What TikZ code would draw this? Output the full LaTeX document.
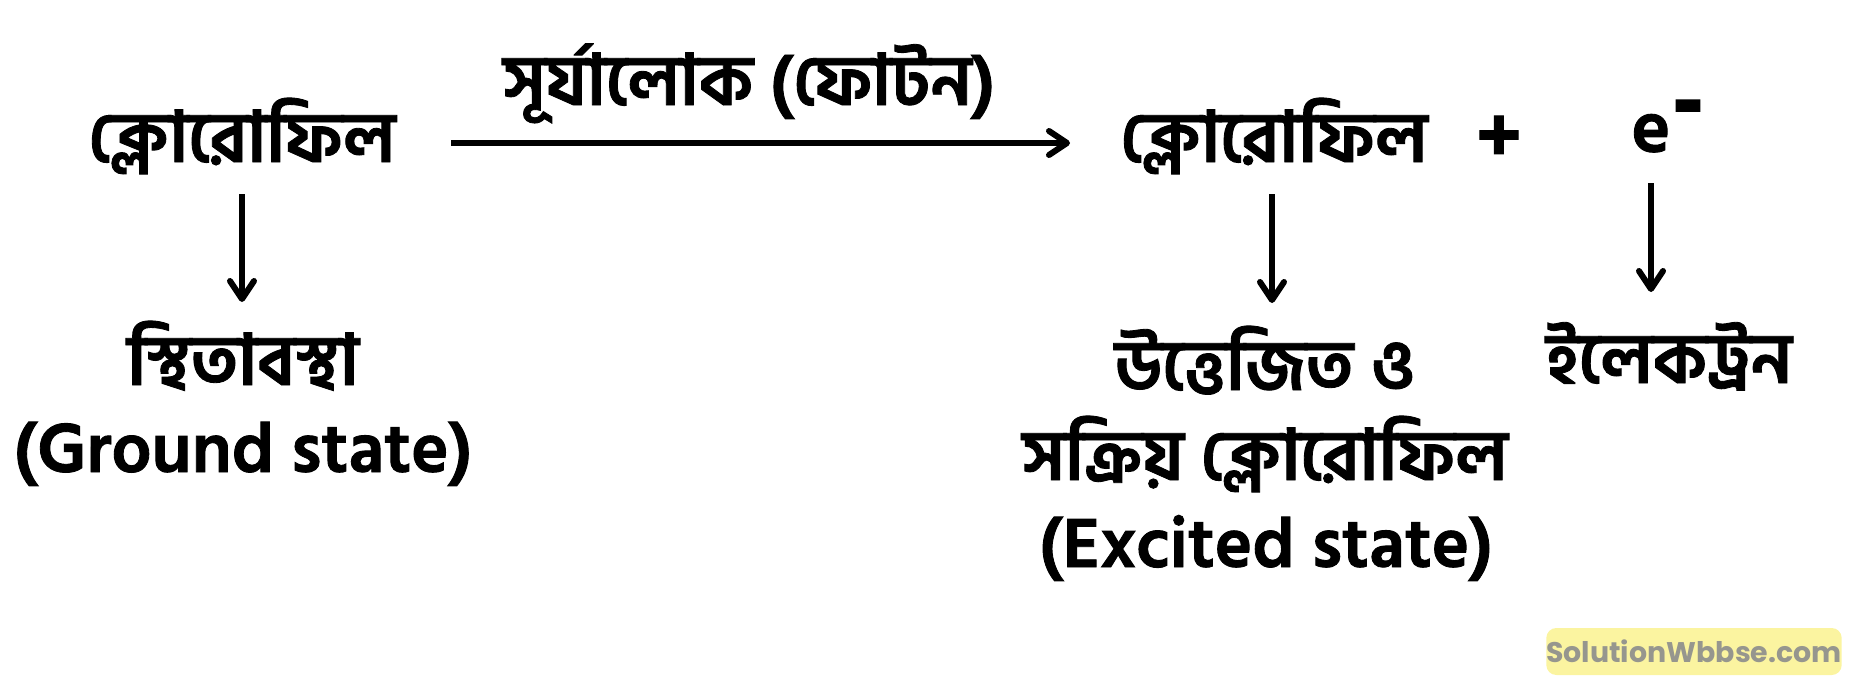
\documentclass[tikz,border=0pt]{standalone}
\usepackage{fontspec}
\usetikzlibrary{arrows.meta}
\newfontfamily\bn[Script=Bengali, BoldFeatures={FakeBold=1.2}]{Hind Siliguri}
\newfontfamily\wmfont{Poppins}
\definecolor{wmfill}{RGB}{251,244,160}
\definecolor{wmtext}{RGB}{150,150,142}
\begin{document}
\begin{tikzpicture}[x=0.5pt,y=-0.5pt,
  every node/.style={inner sep=0pt, outer sep=0pt},
  txt/.style={font=\bn\bfseries\fontsize{35.4}{40}\selectfont, anchor=base},
  lat/.style={font=\bn\bfseries\fontsize{35.5}{40}\selectfont, anchor=base},
  arr/.style={line width=3pt, -{Straight Barb[length=9pt,width=12pt,round]}}]
\useasboundingbox (0,0) rectangle (1862,697);
% top row
\node[txt, minimum width=209pt, text height=35pt, text depth=16pt] (chl1) at (242,162) {ক্লোরোফিল};
\node[txt, minimum width=204pt, text height=35pt, text depth=16pt] (chl2) at (1274,162) {ক্লোরোফিল};
\node[txt] (sun) at (749,105) {সূর্যালোক (ফোটন)};
\node[lat, anchor=center, font=\bn\bfseries\fontsize{40}{44}\selectfont] (plus) at (1499,139) {+};
\node[lat, text depth=15.5pt, font=\bn\bfseries\fontsize{37}{40}\selectfont] (e) at (1651,152) {e\rlap{\hspace{0.5pt}\raisebox{8.5pt}{\scalebox{1.25}[1.5]{-}}}};
% bottom rows
\node[txt, text height=41.5pt] (gs1) at (243,385) {স্থিতাবস্থা};
\node[lat] (gs2) at (243,472) {(Ground state)};
\node[txt, text height=43.5pt] (ex1) at (1265,390) {উত্তেজিত ও};
\node[txt] (ex2) at (1265,480) {সক্রিয় ক্লোরোফিল};
\node[lat] (ex3) at (1266,567) {(Excited state)};
\node[txt, text height=45.5pt] (elec) at (1669,383) {ইলেকট্রন};
% arrows
\draw[arr] (chl1) -- (chl2);
\draw[arr] (chl1.south) -- (chl1.south |- gs1.north);
\draw[arr] ([xshift=-1pt]chl2.south) -- ([xshift=-1pt]chl2.south |- ex1.north);
\draw[arr] (e.south) -- (e.south |- elec.north);
% watermark
\node[fill=wmfill, rounded corners=5pt, minimum width=144pt, minimum height=23.5pt,
      font=\wmfont\bfseries\fontsize{14.2}{16}\selectfont, text=wmtext] (wm) at (1694,651.5) {SolutionWbbse.com};
\end{tikzpicture}
\end{document}
